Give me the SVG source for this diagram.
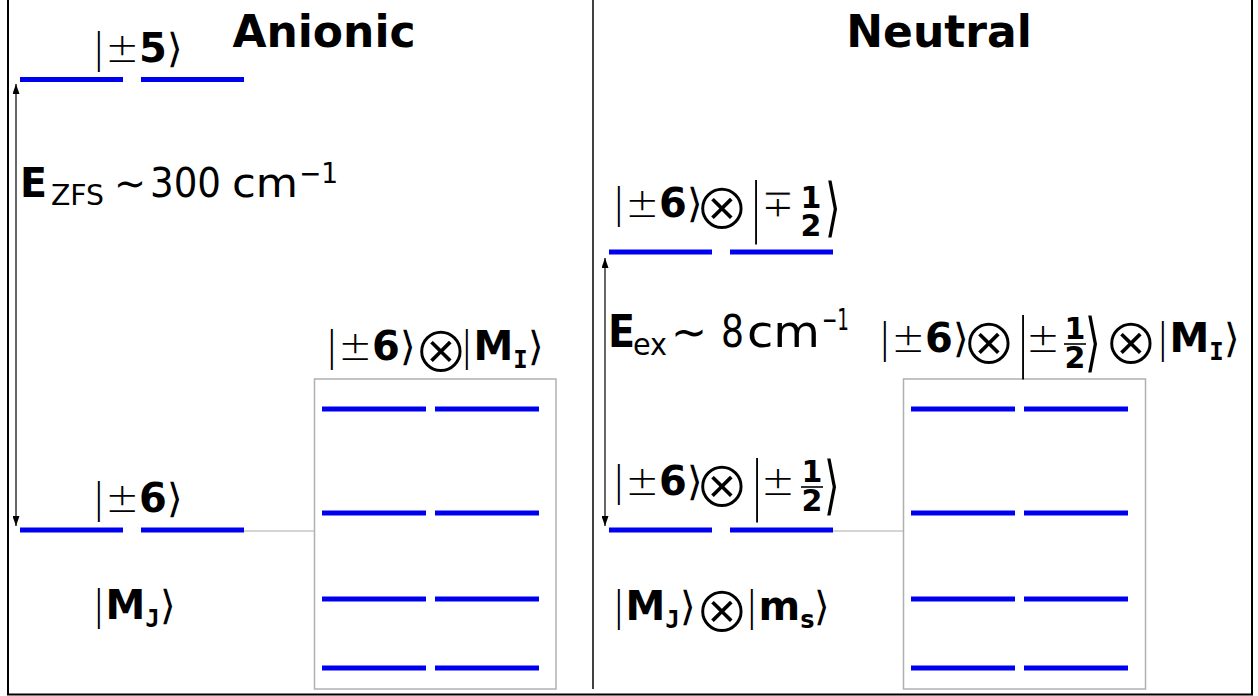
<svg xmlns="http://www.w3.org/2000/svg" width="1258" height="696" viewBox="0 0 1258 696">
<defs>
<style>
.k{font-family:"DejaVu Sans",sans-serif;font-size:40px;fill:#000}
.l{font-family:"DejaVu Sans ExtraLight","DejaVu Sans",sans-serif;font-weight:200}
.c{text-anchor:middle}
.b{font-weight:bold}
.sm{font-family:"DejaVu Sans Mono","DejaVu Sans",monospace;font-weight:bold;font-size:24px}
.ss{font-size:24px;font-weight:bold}
.fr{font-size:30px;font-weight:bold}
.ot{font-family:"DejaVu Sans",sans-serif;font-size:66px;text-anchor:middle;fill:#000;stroke:#fff;stroke-width:1.8}
.thin{stroke:#fff;stroke-width:1}
.t{font-family:"DejaVu Sans",sans-serif;font-weight:bold;font-size:44px;fill:#000;text-anchor:middle}
.e{font-family:"DejaVu Sans Condensed","DejaVu Sans",sans-serif;fill:#000}
.lvl{fill:#0000f0}
.box{fill:none;stroke:#b0b0b0;stroke-width:1.5}
.gl{stroke:#aaaaaa;stroke-width:1}
.ar{stroke:#000;stroke-width:1.2;fill:none}
.fb{stroke:#000;stroke-width:1.6}
</style>
<marker id="ah" viewBox="0 0 10 7" refX="10" refY="3.5" markerWidth="10" markerHeight="7" orient="auto-start-reverse" markerUnits="userSpaceOnUse">
<path d="M0,0 L10,3.5 L0,7 z" fill="#000"/>
</marker>
</defs>
<rect x="0" y="0" width="1258" height="696" fill="#fff"/>
<rect x="8" y="-10" width="1244" height="704.5" fill="none" stroke="#000" stroke-width="2"/>
<line x1="593" y1="0" x2="593" y2="689" stroke="#000" stroke-width="1.5"/>

<text class="t" x="324" y="47">Anionic</text>
<text class="t" x="939" y="47">Neutral</text>

<g id="connectors">
<line class="ar" x1="16" y1="84" x2="16" y2="526" marker-start="url(#ah)" marker-end="url(#ah)"/>
<line class="ar" x1="605" y1="258" x2="605" y2="526" marker-start="url(#ah)" marker-end="url(#ah)"/>
<line class="gl" x1="244" y1="531" x2="314" y2="531"/>
<line class="gl" x1="833" y1="531" x2="903" y2="531"/>
</g>

<g id="anion-excited">
<rect class="lvl" x="20" y="77" width="103" height="5"/>
<rect class="lvl" x="141" y="77" width="103" height="5"/>
<text class="k" x="92" y="62"><tspan class="l">|±</tspan><tspan class="b">5</tspan><tspan class="l">⟩</tspan></text>
</g>

<g id="anion-ground">
<rect class="lvl" x="20" y="527.5" width="103" height="5"/>
<rect class="lvl" x="141" y="527.5" width="103" height="5"/>
<text class="k" x="92" y="512"><tspan class="l">|±</tspan><tspan class="b">6</tspan><tspan class="l">⟩</tspan></text>
</g>

<g id="anion-basis">
<text class="k" x="92" y="619"><tspan class="l">|</tspan><tspan class="b">M</tspan><tspan class="sm" dy="8">J</tspan><tspan class="l" dy="-8">⟩</tspan></text>
</g>

<g id="zfs-label">
<text class="e" y="197"><tspan x="20" font-weight="bold" font-size="40" textLength="27" lengthAdjust="spacingAndGlyphs">E</tspan><tspan x="51" y="205" font-size="28" textLength="53" lengthAdjust="spacingAndGlyphs">ZFS</tspan><tspan x="114" y="197" font-size="40" textLength="32" lengthAdjust="spacingAndGlyphs">∼</tspan><tspan x="150" font-size="40" textLength="71" lengthAdjust="spacingAndGlyphs">300</tspan><tspan x="232" font-size="40" textLength="66" lengthAdjust="spacingAndGlyphs">cm</tspan><tspan x="299" y="183" font-size="28" textLength="39" lengthAdjust="spacingAndGlyphs">−1</tspan></text>
</g>

<g id="anion-hyperfine">
<rect class="box" x="314.5" y="379" width="241.5" height="310"/>
<rect class="lvl" x="322" y="406.5" width="104" height="5"/>
<rect class="lvl" x="435" y="406.5" width="104" height="5"/>
<rect class="lvl" x="322" y="510.5" width="104" height="5"/>
<rect class="lvl" x="435" y="510.5" width="104" height="5"/>
<rect class="lvl" x="322" y="596.5" width="104" height="5"/>
<rect class="lvl" x="435" y="596.5" width="104" height="5"/>
<rect class="lvl" x="322" y="665.5" width="104" height="5"/>
<rect class="lvl" x="435" y="665.5" width="104" height="5"/>
<text class="k" x="325" y="360"><tspan class="l">|±</tspan><tspan class="b">6</tspan><tspan class="l">⟩</tspan></text>
<text class="ot" x="441" y="372">⊗</text>
<text class="k" x="460" y="360"><tspan class="l">|</tspan><tspan class="b">M</tspan><tspan class="sm" dy="8">I</tspan><tspan class="l" dy="-8">⟩</tspan></text>
</g>

<g id="neutral-upper">
<rect class="lvl" x="609" y="249.5" width="103" height="5"/>
<rect class="lvl" x="730" y="249.5" width="103" height="5"/>
<text class="k" x="612" y="217"><tspan class="l">|±</tspan><tspan class="b">6</tspan><tspan class="l">⟩</tspan></text>
<text class="ot" x="722" y="229">⊗</text>
<text class="k l c" transform="translate(756,228.9) scale(1,1.6)">|</text>
<text class="k c thin" x="778" y="217">∓</text>
<text class="k fr c" x="811" y="208">1</text>
<text class="k fr c" x="811" y="236">2</text>
<text class="k l c" transform="translate(833,228.9) scale(1,1.6)">⟩</text>
</g>

<g id="ex-label">
<text class="e" y="347"><tspan x="608" font-weight="bold" font-size="44">E</tspan><tspan x="633" y="355" font-size="30" textLength="34" lengthAdjust="spacingAndGlyphs">ex</tspan><tspan x="671" y="347" font-size="44" textLength="36" lengthAdjust="spacingAndGlyphs">∼</tspan><tspan x="721" font-size="44" textLength="23" lengthAdjust="spacingAndGlyphs">8</tspan><tspan x="747" font-size="44" textLength="73" lengthAdjust="spacingAndGlyphs">cm</tspan><tspan x="822" y="330" font-size="30" textLength="27" lengthAdjust="spacingAndGlyphs">−1</tspan></text>
</g>

<g id="neutral-lower">
<rect class="lvl" x="609" y="527.5" width="103" height="5"/>
<rect class="lvl" x="730" y="527.5" width="103" height="5"/>
<text class="k" x="612" y="495"><tspan class="l">|±</tspan><tspan class="b">6</tspan><tspan class="l">⟩</tspan></text>
<text class="ot" x="722" y="507">⊗</text>
<text class="k l c" transform="translate(757,506.9) scale(1,1.6)">|</text>
<text class="k l c" x="778" y="495">±</text>
<text class="k fr c" x="812" y="482">1</text>
<line class="fb" x1="801" y1="487" x2="823" y2="487"/>
<text class="k fr c" x="812" y="511">2</text>
<text class="k l c" transform="translate(832,506.9) scale(1,1.6)">⟩</text>
</g>

<g id="neutral-basis">
<text class="k" x="612" y="620"><tspan class="l">|</tspan><tspan class="b">M</tspan><tspan class="sm" dy="8">J</tspan><tspan class="l" dy="-8">⟩</tspan></text>
<text class="ot" x="722" y="632">⊗</text>
<text class="k" x="745" y="620"><tspan class="l">|</tspan><tspan class="b">m</tspan><tspan class="ss" dy="8">s</tspan><tspan class="l" dy="-8">⟩</tspan></text>
</g>

<g id="neutral-hyperfine">
<rect class="box" x="903.5" y="379" width="242" height="310"/>
<rect class="lvl" x="911" y="406.5" width="104" height="5"/>
<rect class="lvl" x="1024" y="406.5" width="104" height="5"/>
<rect class="lvl" x="911" y="510.5" width="104" height="5"/>
<rect class="lvl" x="1024" y="510.5" width="104" height="5"/>
<rect class="lvl" x="911" y="596.5" width="104" height="5"/>
<rect class="lvl" x="1024" y="596.5" width="104" height="5"/>
<rect class="lvl" x="911" y="665.5" width="104" height="5"/>
<rect class="lvl" x="1024" y="665.5" width="104" height="5"/>
<text class="k" x="878" y="352"><tspan class="l">|±</tspan><tspan class="b">6</tspan><tspan class="l">⟩</tspan></text>
<text class="ot" x="989" y="364">⊗</text>
<text class="k l c" transform="translate(1023,363.9) scale(1,1.6)">|</text>
<text class="k l c" x="1043" y="352">±</text>
<text class="k fr c" x="1075" y="339">1</text>
<line class="fb" x1="1064" y1="344" x2="1086" y2="344"/>
<text class="k fr c" x="1075" y="368">2</text>
<text class="k l c" transform="translate(1093,363.9) scale(1,1.6)">⟩</text>
<text class="ot" x="1131" y="364">⊗</text>
<text class="k" x="1156" y="352"><tspan class="l">|</tspan><tspan class="b">M</tspan><tspan class="sm" dy="8">I</tspan><tspan class="l" dy="-8">⟩</tspan></text>
</g>
</svg>
